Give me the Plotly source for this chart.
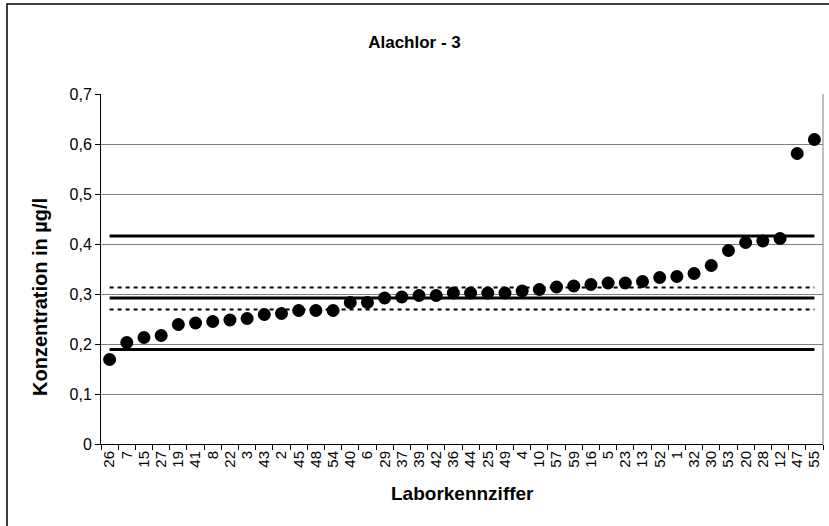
import plotly.graph_objects as go

labs = ["26","7","15","27","19","41","8","22","3","43","2","45","48","54","40","6","29","37","39","42","36",
        "44","25","49","4","10","57","59","16","5","23","13","52","1","32","30","53","20","28","12","47","55"]
vals = [0.169,0.203,0.213,0.217,0.239,0.242,0.245,0.248,0.251,0.259,0.261,0.267,0.267,0.267,0.283,0.283,
        0.292,0.294,0.297,0.297,0.302,0.302,0.302,0.302,0.306,0.309,0.314,0.316,0.319,0.322,0.322,0.325,
        0.333,0.335,0.341,0.357,0.387,0.403,0.406,0.411,0.581,0.609]
mean_val = 0.292
tol_upper = 0.416
tol_lower = 0.189
ci_upper = 0.313
ci_lower = 0.269
ytick_vals = [0, 0.1, 0.2, 0.3, 0.4, 0.5, 0.6, 0.7]
ytick_text = ["0", "0,1", "0,2", "0,3", "0,4", "0,5", "0,6", "0,7"]

FONT = "Liberation Sans, Arial, sans-serif"
fig = go.Figure()

ends = [labs[0], labs[-1]]
for v, dash, w in [(tol_upper, "solid", 3), (mean_val, "solid", 3), (tol_lower, "solid", 3),
                   (ci_upper, "4px,4px", 2), (ci_lower, "4px,4px", 2)]:
    fig.add_trace(go.Scatter(x=ends, y=[v, v], mode="lines",
                             line=dict(color="black", width=w, dash=dash),
                             showlegend=False, hoverinfo="skip"))

fig.add_trace(go.Scatter(x=labs, y=vals, mode="markers",
                         marker=dict(color="black", size=13), showlegend=False))

fig.update_layout(
    width=829, height=526,
    margin=dict(l=101, r=6, t=94, b=82),
    paper_bgcolor="white", plot_bgcolor="white",
    font=dict(family=FONT, color="black"),
    title=dict(text="<b>Alachlor - 3</b>", x=0.5, xref="container", xanchor="center",
               y=1 - 42/526, yref="container", yanchor="middle",
               font=dict(size=17, family=FONT, color="black")),
    xaxis=dict(type="category", categoryorder="array", categoryarray=labs,
               range=[-0.5, len(labs) - 0.5], tickangle=-90,
               tickmode="array", tickvals=labs, ticktext=labs,
               tickfont=dict(size=15, family=FONT, color="black"),
               ticks="outside", ticklen=5, tickcolor="black", tickson="boundaries",
               showline=True, linecolor="black", linewidth=1, mirror=False,
               showgrid=False, zeroline=False, automargin=False),
    yaxis=dict(range=[0, 0.7], tickvals=ytick_vals, ticktext=ytick_text,
               tickfont=dict(size=16, family=FONT, color="black"),
               ticks="outside", ticklen=5, tickcolor="black",
               showline=True, linecolor="black", linewidth=1,
               showgrid=True, gridcolor="#808080", gridwidth=1, zeroline=False,
               automargin=False),
    shapes=[
        dict(type="line", xref="paper", yref="paper", x0=1, x1=1, y0=0, y1=1,
             line=dict(color="#808080", width=1)),
        dict(type="rect", xref="paper", yref="paper", x0=-94/722, x1=1.2,
             y0=-0.5, y1=440/350, line=dict(color="black", width=1.5)),
    ],
    annotations=[
        dict(text="<b>Laborkennziffer</b>", xref="paper", yref="paper", x=0.5,
             y=-(493 - 444)/350, xanchor="center", yanchor="middle", showarrow=False,
             font=dict(size=19, family=FONT, color="black")),
        dict(text="<b>Konzentration in µg/l</b>", xref="paper", yref="paper",
             x=-(101 - 40)/722, y=(444 - 297)/350, xanchor="center", yanchor="middle",
             textangle=-90, showarrow=False,
             font=dict(size=20, family=FONT, color="black")),
    ],
)

fig.write_html("out.html", config={"displayModeBar": False},
               post_script="document.body.style.margin='0';")
